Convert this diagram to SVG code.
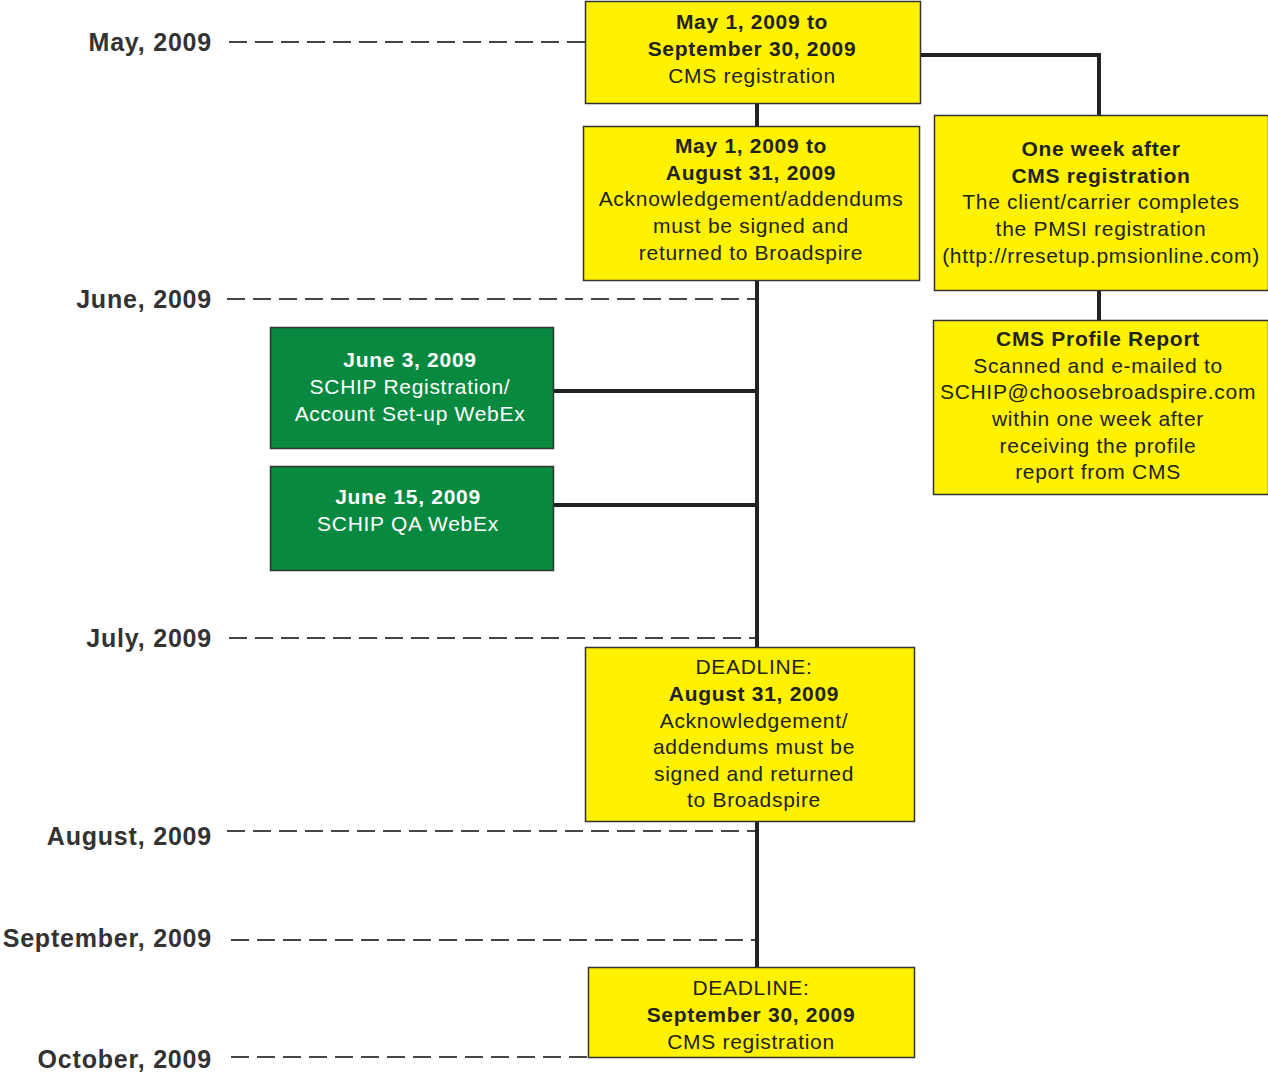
<svg xmlns="http://www.w3.org/2000/svg" width="1268" height="1074" viewBox="0 0 1268 1074">
<style>
.bg{fill:#fff}
.y{fill:#fff200;stroke:#333;stroke-width:1.5}
.g{fill:#078a3f;stroke:#333;stroke-width:1.5}
.t{font-family:"Liberation Sans",Arial,sans-serif;font-size:21px;letter-spacing:0.7px;text-anchor:middle;fill:#222}
.w{fill:#fff}
.b{font-weight:bold}
.lab{font-family:"Liberation Sans",Arial,sans-serif;font-size:25px;font-weight:bold;letter-spacing:0.8px;text-anchor:end;fill:#333}
.dash{stroke:#444;stroke-width:2;stroke-dasharray:18 8;fill:none}
.con{stroke:#222;stroke-width:4;fill:none}
</style>
<rect class="bg" x="0" y="0" width="1268" height="1074"/>
<g id="months">
<text class="lab" x="212" y="51">May, 2009</text>
<text class="lab" x="212" y="308">June, 2009</text>
<text class="lab" x="212" y="647">July, 2009</text>
<text class="lab" x="212" y="845">August, 2009</text>
<text class="lab" x="212" y="947">September, 2009</text>
<text class="lab" x="212" y="1068">October, 2009</text>
</g>
<g id="connectors">
<line class="dash" x1="229" y1="42" x2="585" y2="42"/>
<line class="dash" x1="227" y1="299" x2="757" y2="299"/>
<line class="dash" x1="229" y1="638" x2="757" y2="638"/>
<line class="dash" x1="227" y1="831" x2="757" y2="831"/>
<line class="dash" x1="231" y1="940" x2="757" y2="940"/>
<line class="dash" x1="231" y1="1057" x2="588" y2="1057"/>
<line class="con" x1="757" y1="104" x2="757" y2="126"/>
<line class="con" x1="757" y1="281" x2="757" y2="647"/>
<line class="con" x1="757" y1="822" x2="757" y2="967"/>
<line class="con" x1="553" y1="391" x2="757" y2="391"/>
<line class="con" x1="553" y1="505" x2="757" y2="505"/>
<polyline class="con" points="921,55 1099,55 1099,115"/>
<line class="con" x1="1099" y1="291" x2="1099" y2="320"/>
</g>
<g id="n1">
<rect class="y" x="585.5" y="1.5" width="335" height="102"/>
<text class="t b" x="752" y="29">May 1, 2009 to</text>
<text class="t b" x="752" y="56">September 30, 2009</text>
<text class="t" x="752" y="83">CMS registration</text>
</g>
<g id="n2">
<rect class="y" x="583.5" y="126.5" width="336" height="154"/>
<text class="t b" x="751" y="153">May 1, 2009 to</text>
<text class="t b" x="751" y="180">August 31, 2009</text>
<text class="t" x="751" y="206">Acknowledgement/addendums</text>
<text class="t" x="751" y="233">must be signed and</text>
<text class="t" x="751" y="260">returned to Broadspire</text>
</g>
<g id="n3">
<rect class="y" x="934.5" y="115.5" width="334" height="175"/>
<text class="t b" x="1101" y="156">One week after</text>
<text class="t b" x="1101" y="183">CMS registration</text>
<text class="t" x="1101" y="209">The client/carrier completes</text>
<text class="t" x="1101" y="236">the PMSI registration</text>
<text class="t" x="1101" y="263">(http://rresetup.pmsionline.com)</text>
</g>
<g id="n4">
<rect class="y" x="933.5" y="320.5" width="335" height="174"/>
<text class="t b" x="1098" y="346">CMS Profile Report</text>
<text class="t" x="1098" y="373">Scanned and e-mailed to</text>
<text class="t" x="1098" y="399">SCHIP@choosebroadspire.com</text>
<text class="t" x="1098" y="426">within one week after</text>
<text class="t" x="1098" y="453">receiving the profile</text>
<text class="t" x="1098" y="479">report from CMS</text>
</g>
<g id="n5">
<rect class="g" x="270.5" y="327.5" width="283" height="121"/>
<text class="t b w" x="410" y="367">June 3, 2009</text>
<text class="t w" x="410" y="394">SCHIP Registration/</text>
<text class="t w" x="410" y="421">Account Set-up WebEx</text>
</g>
<g id="n6">
<rect class="g" x="270.5" y="466.5" width="283" height="104"/>
<text class="t b w" x="408" y="504">June 15, 2009</text>
<text class="t w" x="408" y="531">SCHIP QA WebEx</text>
</g>
<g id="n7">
<rect class="y" x="585.5" y="647.5" width="329" height="174"/>
<text class="t" x="754" y="674">DEADLINE:</text>
<text class="t b" x="754" y="701">August 31, 2009</text>
<text class="t" x="754" y="728">Acknowledgement/</text>
<text class="t" x="754" y="754">addendums must be</text>
<text class="t" x="754" y="781">signed and returned</text>
<text class="t" x="754" y="807">to Broadspire</text>
</g>
<g id="n8">
<rect class="y" x="588.5" y="967.5" width="326" height="90"/>
<text class="t" x="751" y="995">DEADLINE:</text>
<text class="t b" x="751" y="1022">September 30, 2009</text>
<text class="t" x="751" y="1049">CMS registration</text>
</g>
</svg>
